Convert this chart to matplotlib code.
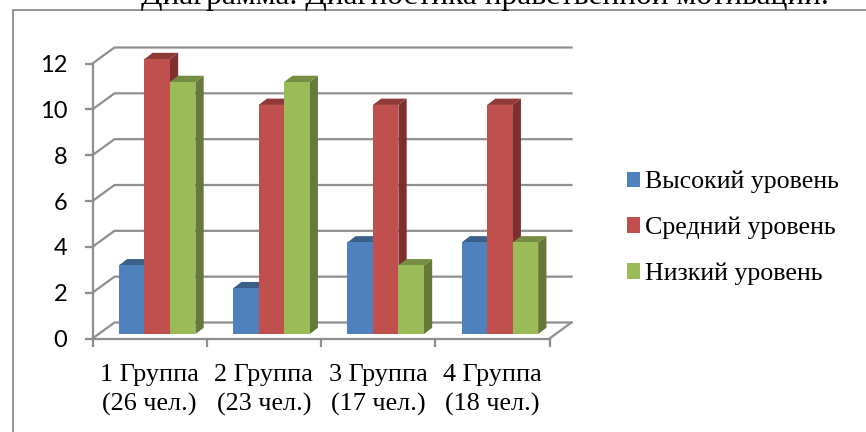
import matplotlib
matplotlib.use("Agg")
import matplotlib.pyplot as plt
from matplotlib.patches import Patch, Rectangle

W, H = 866, 432

groups = ["1 Группа\n(26 чел.)", "2 Группа\n(23 чел.)", "3 Группа\n(17 чел.)", "4 Группа\n(18 чел.)"]
high = [3, 2, 4, 4]
mid = [12, 10, 10, 10]
low = [11, 11, 3, 4]
series_names = ["Высокий уровень", "Средний уровень", "Низкий уровень"]
y_ticks = [0, 2, 4, 6, 8, 10, 12]

# front, top, side
colors = [
    ("#4f81bd", "#3a6089", "#3a6089"),
    ("#c0504d", "#8f3a38", "#7e302e"),
    ("#9bbb59", "#748d43", "#657a3a"),
]
GRID = "#8f8f8f"

fig = plt.figure(figsize=(W / 100, H / 100), dpi=100)
# front plane of the 3d box, in pixels
left, right, bottom, top = 92.5, 549.5, 338.5, 63.5
ax = fig.add_axes([left / W, 1 - bottom / H, (right - left) / W, (bottom - top) / H])
ax.set_xlim(0, 4)
ax.set_ylim(0, 12)
ax.patch.set_visible(False)
px_x = 4 / (right - left)
px_y = 12 / (bottom - top)

# outer frame
fig.add_artist(Rectangle((12.5 / W, -0.1), 1.0, 1 - 10.5 / H + 0.1, transform=fig.transFigure,
                         fill=False, edgecolor="#8c8c8c", linewidth=1.3))

# walls
depth_x, depth_y = 22 * px_x, 16 * px_y
for v in y_ticks:
    ax.plot([0, depth_x, 4 + depth_x], [v, v + depth_y, v + depth_y], color=GRID, lw=1.6, clip_on=False, zorder=1)
ax.plot([4, 4 + depth_x], [0, depth_y], color=GRID, lw=1.6, clip_on=False, zorder=1)

# bars
bar_w = 25.5 * px_x
shift_x, shift_y = 7.5 * px_x, 4.4 * px_y
bar_dx, bar_dy = 8.3 * px_x, 6.3 * px_y


def draw_bar(x0, value, cols, z):
    x0 = x0 + shift_x
    x1 = x0 + bar_w
    y0 = shift_y
    y1 = value + shift_y
    ax.fill([x1, x1 + bar_dx, x1 + bar_dx, x1], [y0, y0 + bar_dy, y1 + bar_dy, y1], color=cols[2], lw=0, clip_on=False, zorder=z)
    ax.fill([x0, x0 + bar_dx, x1 + bar_dx, x1], [y1, y1 + bar_dy, y1 + bar_dy, y1], color=cols[1], lw=0, clip_on=False, zorder=z)
    ax.fill([x0, x1, x1, x0], [y0, y0, y1, y1], color=cols[0], lw=0, clip_on=False, zorder=z + 0.1)


for i in range(len(groups)):
    center = i + 0.5
    for j, vals in enumerate([high, mid, low]):
        draw_bar(center + (j - 1.5) * bar_w, vals[i], colors[j], 3 + j * 0.2)

for name in ["top", "right"]:
    ax.spines[name].set_visible(False)
for name in ["left", "bottom"]:
    ax.spines[name].set_color(GRID)
    ax.spines[name].set_linewidth(1.6)
    ax.spines[name].set_zorder(2)

ax.set_yticks(y_ticks)
ax.set_yticklabels([str(v) for v in y_ticks], family="Lato", fontsize=17, color="black", va="center_baseline")
ax.set_xticks([0, 1, 2, 3, 4])
ax.set_xticklabels([""] * 5)
ax.tick_params(axis="both", color=GRID, width=1.6, length=6)
ax.tick_params(axis="y", pad=12)
for i, name in enumerate(groups):
    ax.text(i + 0.5, -1.1, name, family="Liberation Serif", fontsize=18.8, ha="center", va="top",
            linespacing=1.4, clip_on=False)

handles = [Patch(facecolor=c[0], edgecolor="none") for c in colors]
fig.legend(handles, series_names, loc="center left", bbox_to_anchor=(626.5 / W, 1 - 228 / H), frameon=False,
           prop={"family": "Liberation Serif", "size": 18.7}, handlelength=0.53, handleheight=0.53,
           handletextpad=0.2, labelspacing=0.9, borderpad=0, borderaxespad=0)

fig.text(141 / W, 1 - 4 / H, "Диаграмма. Диагностика нравственной мотивации.", family="Liberation Serif",
         fontsize=22.6, ha="left", va="baseline")

fig.savefig("out.png", dpi=100)
